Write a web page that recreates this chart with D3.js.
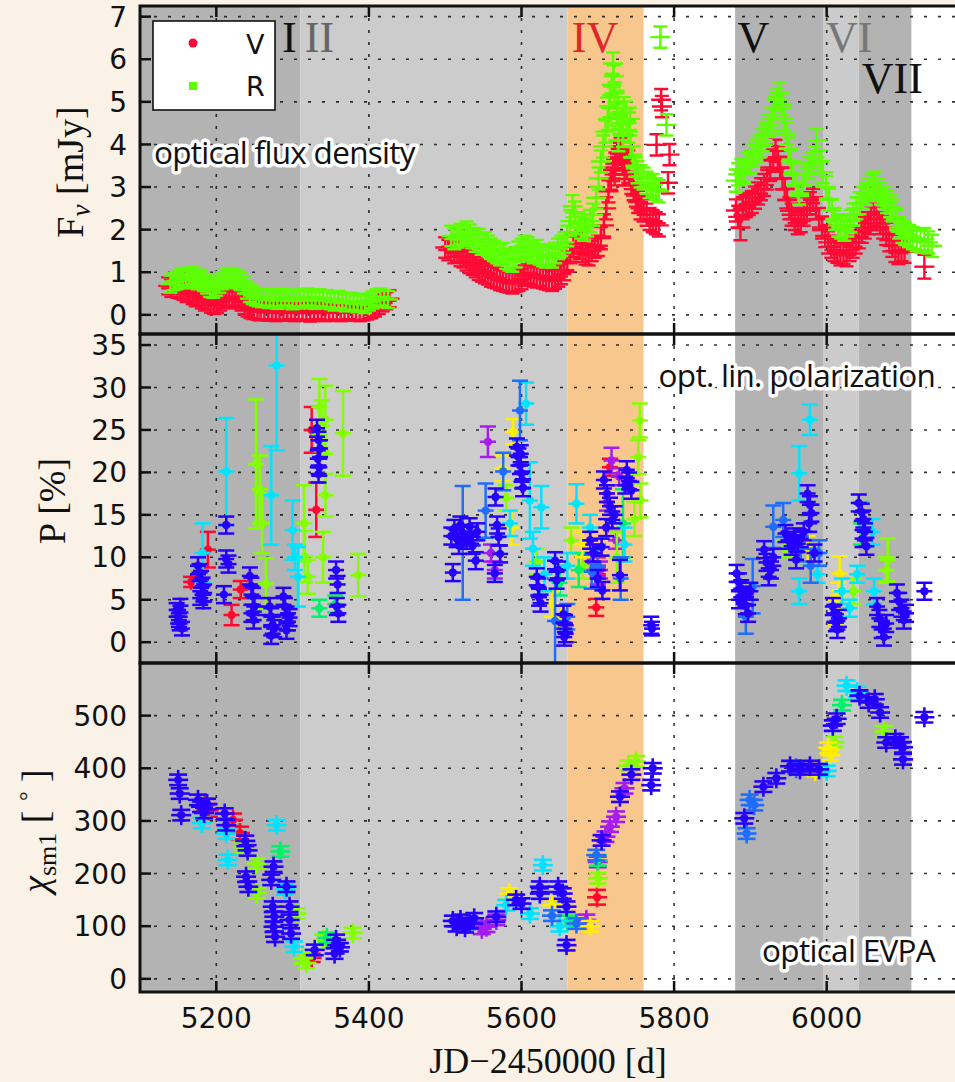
<!DOCTYPE html>
<html>
<head>
<meta charset="utf-8">
<script src="https://cdn.jsdelivr.net/npm/d3@7"></script>
<style>
  html, body { margin: 0; padding: 0; background: #faf2e6; }
  svg { display: block; }
</style>
</head>
<body>
<svg id="chart" width="955" height="1082"></svg>
<script>
// ---- time axis ----
const jdTicks = [5200, 5400, 5600, 5800, 6000, 6200];
const jdTickLabels = [5200, 5400, 5600, 5800, 6000];

// ---- activity periods (JD-2450000) ----
const periodNames  = ["I", "II", "IV", "V", "VI", "VII"];
const periodStart  = [5100, 5310, 5660, 5880, 5996, 6042];
const periodEnd    = [5310, 5660, 5760, 5996, 6042, 6111];
const periodLabelJD = [5286, 5316, 5666, 5883, 5999, 6046];

// ---- optical flux density [mJy]: [JD, flux, err] ----
const fluxV = [
  [5137,.68,.2],[5141,.62,.2],[5145,.70,.2],[5149,.60,.2],[5153,.58,.2],[5157,.55,.2],[5161,.50,.2],[5165,.52,.2],
  [5169,.45,.2],[5173,.40,.2],[5177,.42,.2],[5181,.35,.2],[5185,.30,.2],[5189,.33,.2],[5193,.25,.2],[5197,.22,.2],
  [5201,.24,.2],[5205,.30,.2],[5209,.36,.2],[5213,.40,.2],[5217,.42,.2],[5221,.35,.2],[5225,.38,.2],[5229,.36,.2],
  [5233,.30,.2],[5237,.22,.2],[5241,.16,.2],[5245,.12,.2],[5249,.10,.2],[5254,.08,.2],[5258,.07,.2],[5263,.10,.2],
  [5268,.06,.2],[5273,.08,.2],[5278,.05,.2],[5283,.09,.2],[5288,.06,.2],[5293,.07,.2],[5298,.10,.2],[5303,.05,.2],
  [5308,.08,.2],[5313,.06,.2],[5318,.09,.2],[5323,.04,.2],[5328,.07,.2],[5333,.10,.2],[5338,.06,.2],[5343,.05,.2],
  [5348,.08,.2],[5353,.06,.2],[5358,.09,.2],[5363,.05,.2],[5368,.07,.2],[5373,.10,.2],[5378,.06,.2],[5383,.08,.2],
  [5388,.05,.2],[5393,.07,.2],[5398,.09,.2],[5403,.12,.2],[5408,.16,.2],[5413,.22,.2],[5418,.28,.2],[5423,.33,.2],[5427,.38,.2],
  [5500,1.58,.24],[5504,1.52,.24],[5508,1.60,.24],[5512,1.45,.24],[5516,1.48,.24],[5520,1.38,.24],[5524,1.35,.24],[5528,1.28,.24],
  [5532,1.22,.24],[5536,1.18,.24],[5540,1.12,.24],[5544,1.06,.24],[5548,1.02,.24],[5552,0.98,.24],[5556,0.95,.24],[5560,0.90,.24],
  [5564,0.88,.24],[5568,0.86,.24],[5572,0.82,.24],[5576,0.80,.24],[5580,0.78,.24],[5584,0.76,.24],[5588,0.74,.24],[5592,0.78,.24],
  [5596,0.80,.24],[5600,0.84,.24],[5604,0.92,.24],[5608,0.98,.24],[5612,0.95,.24],[5616,0.90,.24],[5620,0.88,.24],[5624,0.92,.24],
  [5628,0.86,.24],[5632,0.84,.24],[5636,0.82,.24],[5640,0.80,.24],[5644,0.85,.24],[5648,0.90,.24],[5652,0.96,.24],[5656,1.05,.24],
  [5660,1.25,.24],[5664,1.45,.24],[5668,1.60,.24],[5672,1.68,.24],[5676,1.55,.24],[5680,1.48,.24],[5684,1.42,.24],[5688,1.40,.24],
  [5692,1.50,.24],[5696,1.58,.24],[5700,1.62,.24],[5704,1.80,.26],[5708,2.10,.26],[5711,2.50,.26],[5714,2.90,.26],[5717,3.20,.26],
  [5720,3.40,.26],[5722,3.30,.26],[5723,3.55,.26],[5726,3.70,.26],[5729,3.78,.26],[5730,3.90,.26],[5732,3.65,.26],[5735,3.55,.26],
  [5735,3.30,.26],[5738,3.45,.26],[5740,3.60,.26],[5741,3.30,.26],[5744,3.10,.26],[5747,2.95,.26],[5750,2.80,.26],[5753,2.65,.26],
  [5756,2.50,.26],[5760,2.45,.26],[5764,2.35,.26],[5768,2.25,.26],[5772,2.20,.26],[5776,2.15,.26],[5780,2.10,.26],
  [5777,3.99,.25],[5783,5.05,.25],[5784,4.89,.25],[5792,3.10,.25],[5794,3.76,.25],
  [5881,2.45,.26],[5884,2.30,.26],[5887,2.05,.3],[5890,2.50,.26],[5894,2.55,.26],[5898,2.60,.26],[5902,2.65,.26],[5906,2.75,.26],
  [5910,2.85,.26],[5914,2.95,.26],[5918,3.05,.26],[5922,3.20,.26],[5926,3.40,.26],[5930,3.62,.26],[5933,3.85,.26],[5936,3.70,.26],
  [5939,3.45,.26],[5942,3.20,.26],[5945,2.95,.26],[5948,2.70,.26],[5951,2.50,.26],[5954,2.35,.26],[5958,2.25,.26],[5962,2.15,.26],
  [5966,2.20,.26],[5970,2.35,.26],[5974,2.50,.26],[5978,2.62,.26],[5982,2.70,.26],[5986,2.50,.26],[5990,2.25,.26],[5994,2.05,.26],
  [5998,1.85,.26],[6002,1.70,.26],[6006,1.60,.26],[6010,1.52,.26],[6014,1.48,.26],[6018,1.42,.26],[6022,1.45,.26],[6026,1.40,.26],
  [6030,1.52,.26],[6034,1.60,.26],[6038,1.70,.26],[6042,1.82,.26],[6046,1.95,.26],[6050,2.05,.26],[6054,2.15,.26],[6058,2.25,.26],
  [6062,2.35,.26],[6066,2.25,.26],[6070,2.15,.26],[6074,2.05,.26],[6078,1.90,.26],[6082,1.75,.26],[6086,1.62,.26],[6090,1.50,.26],
  [6094,1.45,.26],[6098,1.52,.26],[6102,1.48,.26],[6128,1.13,.28]
];
const fluxR = [
  [5140,.72,.2],[5144,.78,.2],[5148,.80,.2],[5152,.86,.2],[5156,.90,.2],[5160,.82,.2],[5164,.88,.2],[5168,.92,.2],
  [5172,.85,.2],[5176,.80,.2],[5180,.86,.2],[5184,.76,.2],[5188,.70,.2],[5192,.62,.2],[5196,.60,.2],[5200,.65,.2],
  [5204,.72,.2],[5208,.80,.2],[5212,.88,.2],[5216,.84,.2],[5220,.90,.2],[5224,.86,.2],[5228,.82,.2],[5232,.78,.2],
  [5236,.70,.2],[5240,.58,.2],[5244,.50,.2],[5248,.45,.2],[5252,.42,.2],[5256,.40,.2],[5260,.38,.2],[5265,.42,.2],
  [5270,.36,.2],[5275,.40,.2],[5280,.34,.2],[5285,.38,.2],[5290,.42,.2],[5295,.36,.2],[5300,.33,.2],[5305,.38,.2],
  [5310,.40,.2],[5315,.35,.2],[5320,.42,.2],[5325,.38,.2],[5330,.34,.2],[5335,.40,.2],[5340,.36,.2],[5345,.38,.2],
  [5350,.33,.2],[5355,.30,.2],[5360,.36,.2],[5365,.32,.2],[5370,.28,.2],[5375,.32,.2],[5380,.30,.2],[5385,.26,.2],
  [5390,.28,.2],[5395,.24,.2],[5400,.30,.2],[5405,.35,.2],[5410,.40,.2],[5415,.42,.2],[5420,.38,.2],[5425,.36,.2],
  [5508,1.85,.24],[5512,1.78,.24],[5516,1.82,.24],[5520,1.90,.24],[5524,1.85,.24],[5528,1.95,.24],[5532,1.88,.24],[5536,1.80,.24],
  [5540,1.72,.24],[5544,1.78,.24],[5548,1.65,.24],[5552,1.70,.24],[5556,1.62,.24],[5560,1.55,.24],[5564,1.50,.24],[5568,1.45,.24],
  [5572,1.40,.24],[5576,1.45,.24],[5580,1.32,.24],[5584,1.28,.24],[5588,1.25,.24],[5592,1.35,.24],[5596,1.48,.24],[5600,1.55,.24],
  [5604,1.62,.24],[5608,1.58,.24],[5612,1.50,.24],[5616,1.45,.24],[5620,1.52,.24],[5624,1.42,.24],[5628,1.38,.24],[5632,1.35,.24],
  [5636,1.40,.24],[5640,1.35,.24],[5644,1.45,.24],[5648,1.55,.24],[5652,1.62,.24],[5656,1.70,.24],[5660,1.85,.24],[5664,2.20,.26],
  [5667,2.55,.26],[5670,2.40,.26],[5674,2.15,.26],[5678,2.05,.26],[5682,2.00,.26],[5686,2.10,.26],[5690,2.20,.26],[5694,2.35,.26],
  [5698,2.75,.26],[5701,3.20,.26],[5704,3.60,.26],[5707,3.95,.26],[5710,4.30,.26],[5713,4.60,.26],[5715,4.90,.26],[5716,5.10,.26],
  [5718,5.40,.26],[5720,5.90,.26],[5721,5.60,.26],[5722,5.20,.26],[5725,4.70,.26],[5726,5.00,.26],[5727,4.10,.26],[5728,4.50,.26],
  [5731,4.60,.26],[5733,4.20,.26],[5734,4.85,.26],[5737,4.75,.26],[5738,4.50,.26],[5740,4.30,.26],[5742,4.60,.26],[5743,3.95,.26],
  [5746,3.70,.26],[5749,3.50,.26],[5752,3.35,.26],[5756,3.25,.26],[5760,3.20,.26],[5764,3.10,.26],[5768,3.00,.26],[5772,3.05,.26],
  [5776,2.95,.26],[5780,2.90,.26],
  [5782,6.52,.25],[5790,4.46,.25],
  [5881,3.15,.26],[5884,3.30,.26],[5888,3.40,.26],[5892,3.35,.26],[5896,3.55,.26],[5900,3.60,.26],[5904,3.75,.26],[5908,3.85,.26],
  [5912,3.95,.26],[5916,4.10,.26],[5920,4.25,.26],[5924,4.45,.26],[5928,4.60,.26],[5932,4.85,.26],[5935,5.05,.26],[5938,5.20,.26],
  [5941,4.95,.26],[5944,4.60,.26],[5947,4.25,.26],[5950,3.90,.26],[5953,3.60,.26],[5956,3.30,.26],[5960,3.05,.26],[5964,2.85,.26],
  [5968,3.05,.26],[5972,3.30,.26],[5976,3.45,.26],[5980,3.55,.26],[5984,3.70,.26],[5987,4.10,.26],[5991,3.60,.26],[5995,3.35,.26],
  [5999,3.00,.26],[6003,2.70,.26],[6007,2.45,.26],[6011,2.25,.26],[6015,2.10,.26],[6019,2.05,.26],[6023,2.00,.26],[6027,2.10,.26],
  [6031,2.20,.26],[6035,2.35,.26],[6039,2.50,.26],[6043,2.62,.26],[6047,2.75,.26],[6051,2.85,.26],[6055,2.95,.26],[6059,3.05,.26],
  [6063,3.10,.26],[6067,2.95,.26],[6071,2.85,.26],[6075,2.75,.26],[6079,2.65,.26],[6083,2.55,.26],[6087,2.45,.26],[6091,2.25,.26],
  [6095,2.05,.26],[6099,1.95,.26],[6103,1.90,.26],[6108,1.85,.26],[6113,1.80,.26],[6118,1.75,.26],[6123,1.72,.26],[6128,1.78,.26],
  [6133,1.70,.26],[6138,1.62,.26]
];

// ---- optical linear polarization degree [%]: [JD, P, err] per telescope ----
const polRed = [[5167,7.1,.6],[5189,10.9,2.1],[5220,3.2,1.2],[5232,6.2,1],[5325,25.0,2.7],[5331,15.6,3.2],[5698,4.1,1],[5716,20.6,1],[5700,9,1]];
const polPurple = [[5556,23.6,1.8],[5565,8.5,1],[5560,10.5,1],[5700,7.8,1],[5703,8.5,1],[5718,21.4,1.5],[5724,12.0,1],[5712,16.5,1],[5728,19.5,1],[5690,9.5,1]];
const polLime = [[5252,21,7.6],[5257,18,4],[5260,14,3.5],[5265,6.9,3],[5315,14,4.5],[5316,10.1,3],[5320,7.7,2],[5335,27.7,3.3],
  [5338,25.5,3],[5343,26.2,4],[5343,17.3,2.5],[5366,24.6,5],[5386,7.9,2.5],[5340,10.0,3],
  [5580,17.0,1.5],[5620,9.5,1.5],[5665,12.0,1.5],[5680,9.0,1.5],[5755,26.1,2],[5753,21.8,2],[5756,16.7,2],[5748,14.5,2],[5725,10.0,3],
  [6080,9.7,2.5],[6078,8.5,1.5],[6035,6.0,1.5],[5945,11.0,1.0]];
const polGreen = [[5335,4.0,1],[5356,4.5,1],[5733,14.0,4],[6045,14.0,2.5],[5650,7.0,1.5],[5675,8.5,2]];
const polYellow = [[5575,20.5,1.5],[5587,13.5,2],[5589,24.8,1.5],[5640,4.5,1.5],[5652,3.0,1.2],[6017,8.1,2],[6015,5.5,1.5],[6012,3.5,1.5],[5975,11.0,1.5],[5680,11.5,1.5]];
const polCyan = [[5182,10.5,3.5],[5213,20.1,6.3],[5272,17.3,5.8],[5279,32.6,10],[5300,13.2,3.5],[5307,7.7,3.5],[5303,10,1.5],
  [5585,14.0,1.5],[5606,28.1,2.5],[5611,16.7,4.5],[5626,15.9,2.5],[5615,11.0,2.0],[5630,8.0,2.0],[5672,16.3,2.3],[5660,9.0,1.5],[5690,13.5,1.5],[5735,11.5,2.0],
  [5978,26.2,1.8],[5964,19.9,3.2],[5964,6.0,1.5],[5988,8.0,1.0],[6020,6.0,1.5],[6040,8.0,1.0],[6060,13.0,1.5],[6062,6.0,1.5],[6030,4.0,1.0]];
const polAzure = [[5523,11.7,6.7],[5553,15.5,3.2],[5576,20.1,2.2],[5598,27.3,3.5],[5644,2.5,5.0],[5660,3.0,1.5],[5692,8.3,2],[5700,9.0,2.5],[5730,7.5,2.5],
  [5894,3.0,2.0],[5903,6.6,3.2],[5930,13.6,2.5],[5943,14.4,2.0],[5966,11.0,1.5],[5979,9.0,2.0],[5990,10.5,1.5]];
const polBlue = [
  [5148,3.8,.8],[5150,3.0,.8],[5152,2.2,.8],[5155,1.6,.8],[5153,4.3,.8],[5151,2.6,.8],
  [5176,9.0,1],[5178,8.2,1],[5180,7.4,1],[5182,6.6,1],[5184,5.8,1],[5179,5.2,.8],[5183,4.8,.8],
  [5213,13.8,1],[5213,9.8,1],[5216,9.2,1],[5210,5.6,1],
  [5244,7.8,1],[5246,6.6,1],[5248,5.4,1],[5250,4.2,1],[5246,3.4,1],[5249,2.6,1],
  [5270,4.2,1],[5272,3.0,1],[5274,2.0,1],[5272,0.8,1],[5276,1.6,1],
  [5288,5.4,1],[5290,4.2,1],[5292,3.2,1],[5294,2.4,1],[5292,1.4,1],[5296,2.9,1],
  [5332,25.2,1],[5334,23.8,1],[5336,22.8,1],[5333,21.6,1],[5335,20.6,1],[5334,19.8,1],
  [5357,8.5,1],[5359,6.8,1],[5358,4.2,1],[5360,3.4,1],
  [5508,12.5,1],[5512,13.4,1],[5510,8.2,1],[5515,12.2,1],[5518,11.4,1],[5520,13.8,1],[5524,12.8,1],[5528,12.0,1],
  [5532,13.6,1],[5534,12.6,1],[5536,11.4,1],[5540,9.6,1],[5542,13.0,1],
  [5566,17.1,1],[5568,13.8,1],[5570,12.4,1],[5572,10.4,1],[5565,8.1,1],
  [5594,23.0,1],[5596,21.8,1],[5598,20.8,1],[5600,19.9,1],[5601,19.1,1],[5602,18.2,1],[5599,22.2,1],
  [5620,7.7,1],[5622,6.5,1],[5623,5.3,1],[5625,4.6,1],
  [5644,9.6,1],[5646,7.3,1],[5648,8.5,1],
  [5655,3.3,1],[5657,2.2,1],[5658,1.0,1],[5656,0.6,1],
  [5690,12.0,1],[5694,10.5,1],[5705,11.2,1],[5706,6.1,1],[5700,7.5,1],
  [5708,19.1,1],[5712,17.5,1],[5716,16.0,1],[5719,14.4,1],[5711,13.5,1],[5722,15.0,1],
  [5738,20.3,1],[5741,19.0,1],[5744,17.9,1],[5736,18.5,1],
  [5729,7.9,1.8],[5770,2.0,1],[5771,1.6,.8],
  [5882,8.1,1],[5885,7.1,1],[5888,6.3,1],[5891,5.5,1],[5894,4.3,1],[5897,3.4,1],[5885,5.0,1],[5900,6.0,1],
  [5918,10.9,1],[5921,9.4,1],[5924,7.7,1],[5927,8.5,1],[5930,10.0,1],
  [5946,12.8,1],[5950,12.0,1],[5954,11.3,1],[5958,12.4,1],[5962,11.6,1],[5966,12.2,1],[5970,13.0,1],[5960,9.7,1],
  [5975,17.5,1],[5978,16.2,1],[5980,15.2,1],[5977,14.0,1],[5984,10.5,1],
  [6008,4.2,1],[6010,3.4,1],[6012,2.3,1],[6014,1.5,1],[6016,2.8,1],
  [6042,16.4,1],[6046,15.3,1],[6048,14.5,1],[6050,13.0,1],[6052,11.3,1],[6047,12.2,1],
  [6066,4.2,1],[6069,2.8,1],[6072,1.5,1],[6075,0.6,1],[6078,2.2,1],
  [6092,5.8,1],[6095,4.8,1],[6098,4.0,1],[6101,2.6,1],[6104,3.4,1],
  [6128,6.0,1]
];

// ---- smoothed optical EVPA [deg]: [JD, chi, err] per telescope ----
const evpaRed = [[5185,330,12],[5190,320,12],[5222,302,12],[5231,277,12],[5699,155,14],[5325,40,8]];
const evpaPurple = [[5554,99,10],[5567,112,10],[5685,112,10],[5700,222,10],[5716,289,10],[5724,308,10],[5735,362,10],[5710,270,10],[5548,95,10]];
const evpaLime = [[5253,219,10],[5253,163,10],[5305,124,10],[5313,39,10],[5318,30,10],[5340,74,10],[5379,87,10],[5235,250,10],
  [5700,191,10],[5750,413,10],[5740,405,10],[6010,450,10],[6075,470,10]];
const evpaGreen = [[5284,242,10],[5345,78,10],[5660,110,10],[5700,225,10],[6020,520,10]];
const evpaYellow = [[5584,162,10],[6002,439,10],[6005,425,10],[5640,140,10],[5690,100,10],[5985,395,10]];
const evpaCyan = [[5181,296,10],[5213,276,10],[5215,226,10],[5279,292,10],[5302,61,10],[5290,170,10],[5611,124,10],[5628,216,10],
  [5580,140,10],[6026,557,10],[6000,395,10],[6040,545,10],[5650,100,10]];
const evpaAzure = [[5895,276,10],[5899,340,10],[5905,330,10],[5672,105,10],[5698,235,10],[5640,120,10],[5960,400,10],[5528,104,10]];
const evpaBlue = [
  [5150,378,10],[5152,352,10],[5154,311,10],[5176,340,10],[5180,327,10],[5184,315,10],[5188,332,10],[5211,314,10],[5213,292,10],
  [5238,262,10],[5241,244,10],[5239,194,10],[5242,175,10],[5275,213,10],[5272,188,10],[5274,137,10],[5276,118,10],[5275,99,10],
  [5277,80,10],[5292,175,10],[5296,137,10],[5296,112,10],[5298,86,10],[5329,55,10],[5357,74,10],[5355,48,10],[5362,60,8],
  [5510,110,10],[5515,100,10],[5520,112,10],[5526,98,10],[5532,106,10],[5538,115,10],[5567,118,10],[5593,150,10],[5600,143,10],
  [5624,162,10],[5624,175,10],[5648,175,10],[5654,162,10],[5659,137,10],[5659,64,10],[5705,263,10],[5729,346,10],[5744,388,10],
  [5772,400,10],[5770,368,10],
  [5892,305,10],[5917,365,10],[5934,381,10],[5952,404,10],[5965,398,10],[5978,404,10],[5990,398,10],[6008,481,10],[6013,494,10],
  [6043,538,10],[6055,525,10],[6063,531,10],[6070,506,10],[6078,449,10],[6090,455,10],[6096,449,10],[6100,417,10],[6100,440,10],
  [6128,497,10]
];

// ---- axis ticks ----
const fluxTicks = [0, 1, 2, 3, 4, 5, 6, 7];
const polTicks = [0, 5, 10, 15, 20, 25, 30, 35];
const evpaTicks = [0, 100, 200, 300, 400, 500];

// ---------------------------------------------------------------
const svg = d3.select("#chart");
const left = 140, pxPerDay = 0.763;
const x = d3.scaleLinear().domain([5100, 6200]).range([left, left + 1100 * pxPerDay]);
const right = x(6200);

const panels = [
  { top: 6,   bottom: 334, y: d3.scaleLinear().domain([-0.45, 7.25]).range([334, 6]), ticks: fluxTicks },
  { top: 334, bottom: 663, y: d3.scaleLinear().domain([-2.45, 36.3]).range([663, 334]), ticks: polTicks },
  { top: 663, bottom: 992, y: d3.scaleLinear().domain([-25, 600]).range([992, 663]), ticks: evpaTicks }
];

const shadeFill = ["#b3b3b3", "#cccccc", "#f8c78e", "#b3b3b3", "#cbcbcb", "#b3b3b3"];
const labelFill = ["#111", "#666", "#e0262a", "#111", "#777", "#111"];

const defs = svg.append("defs");
panels.forEach((p, i) => {
  defs.append("clipPath").attr("id", "clip" + i)
    .append("rect").attr("x", left).attr("y", p.top).attr("width", right - left).attr("height", p.bottom - p.top);
});

panels.forEach((p, i) => {
  const g = svg.append("g");
  // white plotting area
  g.append("rect").attr("x", left).attr("y", p.top).attr("width", right - left).attr("height", p.bottom - p.top).attr("fill", "#fff");
  // period shading
  g.selectAll("rect.shade").data(periodStart).join("rect")
    .attr("x", (d) => x(d)).attr("y", p.top)
    .attr("width", (d, k) => x(periodEnd[k]) - x(d)).attr("height", p.bottom - p.top)
    .attr("fill", (d, k) => shadeFill[k]);
  // grid
  const grid = g.append("g").attr("stroke", "#111").attr("stroke-width", 1.6).attr("opacity", 0.85);
  grid.selectAll("line.h").data(p.ticks).join("line")
    .attr("x1", left).attr("x2", right).attr("y1", (d) => p.y(d)).attr("y2", (d) => p.y(d))
    .attr("stroke-dasharray", "3,11");
  grid.selectAll("line.v").data(jdTicks).join("line")
    .attr("x1", (d) => x(d)).attr("x2", (d) => x(d)).attr("y1", p.top).attr("y2", p.bottom)
    .attr("stroke-dasharray", "3,9");
  // ticks (inward)
  const tk = g.append("g").attr("stroke", "#111").attr("stroke-width", 2.5);
  tk.selectAll("line.yt").data(p.ticks).join("line")
    .attr("x1", left).attr("x2", left + 11).attr("y1", (d) => p.y(d)).attr("y2", (d) => p.y(d));
  tk.selectAll("line.xb").data(jdTicks).join("line")
    .attr("x1", (d) => x(d)).attr("x2", (d) => x(d)).attr("y1", p.bottom).attr("y2", p.bottom - 11);
  tk.selectAll("line.xt").data(jdTicks).join("line")
    .attr("x1", (d) => x(d)).attr("x2", (d) => x(d)).attr("y1", p.top).attr("y2", p.top + 11);
  // y tick labels
  svg.append("g").selectAll("text").data(p.ticks).join("text")
    .attr("x", 127).attr("y", (d) => p.y(d)).attr("dy", "0.36em")
    .attr("text-anchor", "end").attr("font-family", "DejaVu Sans").attr("font-size", 28).attr("fill", "#111")
    .text((d) => d);
});

// error-bar markers
function drawMarks(panelIdx, data, color, opt) {
  const p = panels[panelIdx];
  const g = svg.append("g").attr("clip-path", `url(#clip${panelIdx})`)
    .attr("stroke", color).attr("fill", color).attr("stroke-width", opt.sw);
  const m = g.selectAll("g").data(data).join("g");
  m.append("line").attr("x1", (d) => x(d[0]) - opt.hw).attr("x2", (d) => x(d[0]) + opt.hw)
    .attr("y1", (d) => p.y(d[1])).attr("y2", (d) => p.y(d[1]));
  m.append("line").attr("x1", (d) => x(d[0])).attr("x2", (d) => x(d[0]))
    .attr("y1", (d) => Math.min(p.y(d[1] + d[2]), p.y(d[1]) - opt.minArm))
    .attr("y2", (d) => Math.max(p.y(d[1] - d[2]), p.y(d[1]) + opt.minArm));
  ["+", "-"].forEach((s) => {
    m.append("line").attr("x1", (d) => x(d[0]) - opt.cap).attr("x2", (d) => x(d[0]) + opt.cap)
      .attr("y1", (d) => s === "+" ? p.y(d[1] + d[2]) : p.y(d[1] - d[2]))
      .attr("y2", (d) => s === "+" ? p.y(d[1] + d[2]) : p.y(d[1] - d[2]));
  });
  if (opt.r) m.append("circle").attr("cx", (d) => x(d[0])).attr("cy", (d) => p.y(d[1])).attr("r", opt.r).attr("stroke", "none");
}

const fluxOpt = { sw: 2.4, hw: 10, cap: 7, minArm: 7, r: 2 };
drawMarks(0, fluxV, "#ff0a35", fluxOpt);
drawMarks(0, fluxR, "#5cff00", fluxOpt);

const polOpt = { sw: 2.5, hw: 8, cap: 8, minArm: 8, r: 4.2 };
const polSeries = [[polRed, "#ff0a2e"], [polPurple, "#a51cf0"], [polLime, "#84ff00"], [polGreen, "#00f26a"],
  [polYellow, "#ffee00"], [polCyan, "#00e4ff"], [polAzure, "#1f6dff"], [polBlue, "#2600ff"]];
polSeries.forEach(([d, c]) => drawMarks(1, d, c, polOpt));

const evpaOpt = { sw: 2.6, hw: 10, cap: 9, minArm: 10, r: 4.2 };
const evpaSeries = [[evpaRed, "#ff0a2e"], [evpaPurple, "#a51cf0"], [evpaLime, "#84ff00"], [evpaGreen, "#00f26a"],
  [evpaYellow, "#ffee00"], [evpaCyan, "#00e4ff"], [evpaAzure, "#1f6dff"], [evpaBlue, "#2600ff"]];
evpaSeries.forEach(([d, c]) => drawMarks(2, d, c, evpaOpt));

// period labels
svg.append("g").selectAll("text").data(periodNames).join("text")
  .attr("x", (d, k) => x(periodLabelJD[k]))
  .attr("y", (d) => d === "VII" ? 93 : 52)
  .attr("font-family", "Liberation Serif").attr("font-size", 44)
  .attr("fill", (d, k) => labelFill[k]).text((d) => d);

// frame
svg.append("g").attr("fill", "none").attr("stroke", "#111").attr("stroke-width", 3)
  .selectAll("rect").data(panels).join("rect")
  .attr("x", left).attr("y", (p) => p.top).attr("width", right - left).attr("height", (p) => p.bottom - p.top);

// legend
const lg = svg.append("g");
lg.append("rect").attr("x", 153).attr("y", 21).attr("width", 122).attr("height", 89)
  .attr("fill", "#fff").attr("stroke", "#111").attr("stroke-width", 1.6);
lg.append("circle").attr("cx", 193).attr("cy", 43).attr("r", 4.5).attr("fill", "#ff0a35");
lg.append("rect").attr("x", 189).attr("y", 82).attr("width", 8).attr("height", 8).attr("fill", "#5cff00");
lg.append("text").attr("x", 246).attr("y", 54).attr("font-family", "DejaVu Sans").attr("font-size", 27).attr("fill", "#111").text("V");
lg.append("text").attr("x", 246).attr("y", 96).attr("font-family", "DejaVu Sans").attr("font-size", 27).attr("fill", "#111").text("R");

// panel annotations with white halo
const notes = [
  { t: "optical flux density", x: 154, y: 164, anchor: "start" },
  { t: "opt. lin. polarization", x: 935, y: 387, anchor: "end" },
  { t: "optical EVPA", x: 935, y: 962, anchor: "end" }
];
svg.append("g").selectAll("text").data(notes).join("text")
  .attr("x", (d) => d.x).attr("y", (d) => d.y).attr("text-anchor", (d) => d.anchor)
  .attr("font-family", "Open Sans").attr("font-size", 31.5).attr("letter-spacing", -0.7)
  .attr("fill", "#111").attr("stroke", "#fff").attr("stroke-width", 7).attr("stroke-linejoin", "round")
  .attr("paint-order", "stroke").text((d) => d.t);

// x tick labels
svg.append("g").selectAll("text").data(jdTickLabels).join("text")
  .attr("x", (d) => x(d)).attr("y", 1028).attr("text-anchor", "middle")
  .attr("font-family", "DejaVu Sans").attr("font-size", 28).attr("fill", "#111").text((d) => d);

// axis titles
const serif = "Liberation Serif";
svg.append("text").attr("x", 548).attr("y", 1073).attr("text-anchor", "middle")
  .attr("font-family", serif).attr("font-size", 36).attr("fill", "#111").text("JD\u22122450000 [d]");

const fl = svg.append("text").attr("transform", "translate(83,172) rotate(-90)").attr("text-anchor", "middle")
  .attr("font-family", serif).attr("font-size", 38).attr("fill", "#111");
fl.append("tspan").text("F");
fl.append("tspan").attr("font-size", 27).attr("font-style", "italic").attr("dy", 7).text("\u03bd");
fl.append("tspan").attr("dy", -7).text(" [mJy]");

svg.append("text").attr("transform", "translate(65,501) rotate(-90)").attr("text-anchor", "middle")
  .attr("font-family", serif).attr("font-size", 38).attr("fill", "#111").text("P [%]");

const cl = svg.append("text").attr("transform", "translate(48,831) rotate(-90)").attr("text-anchor", "middle")
  .attr("font-family", serif).attr("font-size", 38).attr("fill", "#111");
cl.append("tspan").attr("font-style", "italic").text("\u03c7");
cl.append("tspan").attr("font-size", 26).attr("dy", 8).text("sm1");
cl.append("tspan").attr("dy", -8).text(" [ ");
cl.append("tspan").attr("font-size", 24).attr("dy", -12).text("\u00b0");
cl.append("tspan").attr("dy", 12).text(" ]");
</script>
</body>
</html>
